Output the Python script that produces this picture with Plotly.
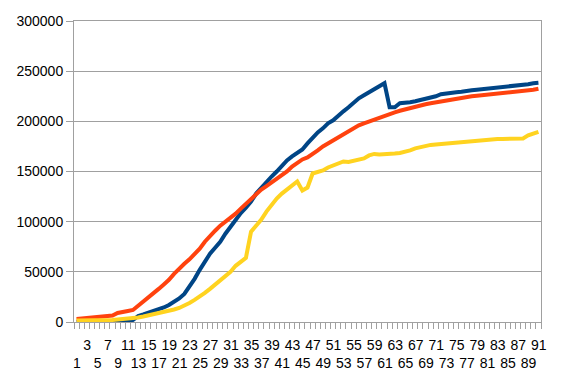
import plotly.graph_objects as go

categories = list(range(1, 92))

blue_values = [
    0, 0, 0, 0, 0, 0, 0, 0, 0, 0,
    500, 2000, 6000, 7500, 9000, 11000, 12500, 14500, 17000, 20000,
    23500, 28000, 35000, 43000, 52000, 60000, 68000, 74000, 80000, 88000,
    95000, 102000, 108500, 114000, 120000, 128000, 134000, 139000, 145000, 150000,
    156000, 161000, 165000, 169000, 172000, 178000, 184000, 189000, 193000, 198000,
    201000, 206000, 210000, 214000, 219000, 223000, 226000, 229000, 232000, 235000,
    238000, 214000, 214000, 218000, 218000, 219000, 220000, 221000, 222500, 223500,
    225000, 227000, 228000, 228500, 229000, 229500, 230500, 231000, 231500, 232000,
    232500, 233000, 234000, 234500, 235000, 235000, 236000, 236500, 237000, 238000,
    238500,
]

red_values = [
    3000, 3500, 4000, 4500, 5500, 5800, 6000, 6500, 9000, 10500,
    11000, 12000, 16000, 20000, 24000, 28500, 33000, 37500, 42000, 48000,
    53500, 58000, 62500, 67500, 73000, 80000, 86000, 91000, 96000, 100000,
    103500, 108000, 113000, 118000, 122000, 127000, 132000, 135500, 139000, 142500,
    146000, 150000, 155000, 159000, 162000, 164000, 167000, 171000, 175000, 178000,
    181000, 185000, 188000, 191000, 194000, 196000, 198000, 200000, 202000, 204000,
    206000, 207500, 209000, 210500, 212000, 213000, 214500, 215500, 217000, 218000,
    219000, 220000, 221000, 222000, 223000, 223500, 224500, 225000, 225500, 226000,
    226500, 227000, 227500, 228000, 228500, 229000, 229500, 230000, 231000, 231500,
    232500,
]

yellow_values = [
    1500, 1500, 1500, 1500, 1500, 1500, 1500, 2000, 2500, 3000,
    3000, 3500, 4500, 5500, 6500, 7500, 8500, 10000, 11500, 12500,
    14000, 16000, 19000, 22000, 25000, 29000, 33000, 37000, 41000, 45500,
    50000, 56000, 60000, 64000, 90000, 96000, 102000, 110000, 117000, 123000,
    128000, 132000, 136000, 140000, 131000, 134000, 148000, 149500, 151000, 154000,
    156000, 159000, 160000, 159500, 161000, 162000, 163000, 166000, 167500, 167000,
    167000, 167500, 168000, 168500, 169500, 171000, 173000, 174500, 175500, 176500,
    177000, 177500, 178500, 179000, 179500, 180000, 180500, 180500, 181000, 181000,
    181500, 182000, 182500, 182500, 182500, 182500, 182500, 183000, 186000, 187500,
    189500,
]

y_ticks = [0, 50000, 100000, 150000, 200000, 250000, 300000]


def x_label(c):
    # Staggered category labels: 3, 7, 11 ... on the upper row, 1, 5, 9 ... on the lower row
    if c % 4 == 3:
        return str(c)
    if c % 4 == 1:
        return "<br>" + str(c)
    return ""


# tick marks sit on the category boundaries; labels are shifted half a category to the right
boundaries = [c - 0.5 for c in categories] + [categories[-1] + 0.5]
boundary_text = [x_label(c) for c in categories] + [""]

GRID = "#a0a0a0"
FONT = "Liberation Sans, Arial, sans-serif"
PLOT_W = 567 - 74 - 26

fig = go.Figure()
for name, vals, col in [("Series 1", blue_values, "#004586"),
                        ("Series 2", red_values, "#ff420e"),
                        ("Series 3", yellow_values, "#ffd320")]:
    fig.add_trace(go.Scatter(x=categories, y=vals, mode="lines", name=name,
                             line=dict(color=col, width=4)))

xrange = [0.5, len(categories) + 0.5]
fig.update_layout(
    width=567, height=381,
    margin=dict(l=74, r=26, t=21, b=59, autoexpand=False),
    paper_bgcolor="white", plot_bgcolor="white",
    showlegend=False,
    font=dict(family=FONT, size=14, color="black"),
    xaxis=dict(
        range=xrange, showgrid=False, zeroline=False, automargin=False,
        showline=True, linecolor=GRID, linewidth=1, mirror=True,
        tickmode="array", tickvals=boundaries, ticktext=boundary_text,
        ticks="outside", ticklen=6, tickcolor=GRID, tickwidth=1,
        ticklabelshift=int(round(PLOT_W / len(categories) / 2)), ticklabelstandoff=4,
        tickangle=0, tickfont=dict(size=14),
    ),
    yaxis=dict(
        range=[0, 300000], tickmode="array", tickvals=y_ticks, automargin=False,
        ticktext=[str(v) for v in y_ticks],
        showgrid=True, gridcolor=GRID, gridwidth=1, zeroline=False,
        showline=True, linecolor=GRID, linewidth=1, mirror=True,
        ticks="outside", ticklen=7, tickcolor=GRID, tickwidth=1,
        tickfont=dict(size=14),
    ),
)

fig.write_html("out.html", config={"displayModeBar": False},
               post_script="document.body.style.margin='0';document.body.style.padding='0';")
